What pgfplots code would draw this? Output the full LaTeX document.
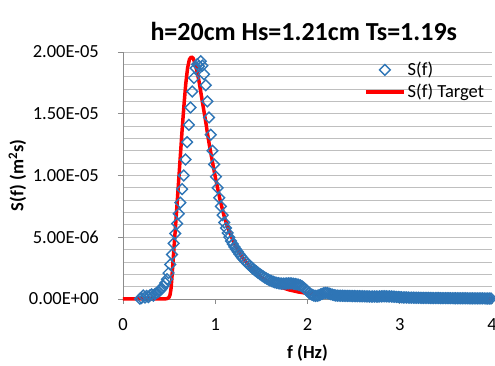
\documentclass[border=0pt]{standalone}
\usepackage{pgfplots}
\pgfplotsset{compat=1.18}
\usepackage{fontspec}
\setmainfont{Carlito}
\definecolor{sblue}{HTML}{2E75B6}
\definecolor{gridgray}{HTML}{BFBFBF}
\definecolor{axgray}{HTML}{8C8C8C}
\pgfplotsset{
  lineleg/.style={legend image code/.code={\draw[##1] (0pt,0pt) -- (38pt,0pt);}},
  markleg/.style={legend image code/.code={\draw[mark repeat=2, mark phase=2, ##1] plot coordinates {(0pt,0pt) (19pt,0pt) (38pt,0pt)};}},
}
\begin{document}
\begin{tikzpicture}
\begin{axis}[
  at={(0,0)}, anchor=south west,
  scale only axis, width=369pt, height=247pt,
  xmin=0, xmax=4, ymin=0, ymax=20,
  axis x line*=bottom, axis y line*=left,
  x axis line style={-, axgray, line width=0.8pt},
  y axis line style={-, axgray, line width=0.8pt},
  xtick={0,1,2,3,4}, xticklabels={0,1,2,3,4},
  ytick={0,5,10,15,20},
  yticklabels={0.00E+00,5.00E-06,1.00E-05,1.50E-05,2.00E-05},
  minor y tick num=4,
  ymajorgrids, yminorgrids,
  major grid style={gridgray, line width=0.8pt},
  minor grid style={gridgray, line width=0.8pt},
  tick align=outside, major tick length=5pt, minor tick length=0pt,
  tick style={axgray, line width=0.8pt},
  ticklabel style={font=\fontsize{18.5}{20}\selectfont},
  yticklabel style={anchor=east, inner sep=0pt, xshift=-19pt},
  xticklabel style={anchor=base, inner sep=0pt, yshift=-26pt},
  title={h=20cm Hs=1.21cm Ts=1.19s},
  title style={at={(axis description cs:0.49,1.022)}, anchor=base, font=\fontsize{26}{30}\selectfont\bfseries},
  xlabel={f (Hz)},
  xlabel style={at={(axis description cs:0.5,-0.239)}, anchor=base, font=\fontsize{18.5}{21}\selectfont\bfseries},
  ylabel={S(f) (m\textsuperscript{2}s)},
  ylabel style={at={(axis description cs:-0.27,0.5)}, rotate=0, anchor=base, font=\fontsize{18.5}{21}\selectfont\bfseries},
  reverse legend,
  legend cell align=left,
  legend style={draw=none, fill=none, at={(axis description cs:0.645,0.883)}, anchor=west,
    font=\fontsize{18.5}{20}\selectfont, row sep=3pt, nodes={inner sep=2pt}},
  clip=false,
]
\addplot[red, line width=3.5pt, line join=round, lineleg]
coordinates {
(0,0) (0.44,0) (0.46,0.01) (0.48,0.04) (0.50,0.14) (0.51,0.35) (0.52,0.8) (0.53,1.7)
(0.54,2.8) (0.56,4.9) (0.58,7.0) (0.60,9.2) (0.62,11.4) (0.64,13.6) (0.66,15.6)
(0.68,17.4) (0.70,18.7) (0.72,19.4) (0.74,19.6) (0.76,19.5) (0.78,19.1) (0.80,18.5)
(0.82,17.8) (0.84,16.9) (0.86,16.0) (0.88,15.1) (0.90,14.2) (0.92,13.2) (0.94,12.3)
(0.96,11.5) (0.98,10.7) (1.00,9.9) (1.05,8.1) (1.10,6.6) (1.15,5.5) (1.20,4.6)
(1.25,3.9) (1.30,3.3) (1.40,2.4) (1.50,1.75) (1.60,1.3) (1.70,0.98) (1.80,0.74)
(1.90,0.57) (2.00,0.45) (2.20,0.29) (2.40,0.18) (2.60,0.12) (2.80,0.085) (3.00,0.06)
(3.50,0.03) (4.00,0.015)
};
\addlegendentry{S(f) Target}
\addplot[only marks, mark=square, mark size=3.8pt, draw=sblue, markleg,
  mark options={rotate=45, line width=1.4pt, draw=sblue, fill=none}]
coordinates {
(0.183,0.02) (0.201,0.08) (0.220,0.28) (0.238,0.12) (0.256,0.25) (0.275,0.16)
(0.293,0.30) (0.311,0.38) (0.329,0.28) (0.348,0.42) (0.366,0.50) (0.384,0.58)
(0.403,0.70) (0.421,0.85) (0.439,1.05) (0.458,1.30) (0.476,1.60) (0.494,2.10)
(0.512,2.80) (0.531,3.60) (0.549,4.50) (0.567,5.30) (0.586,6.10) (0.604,6.90)
(0.622,7.80) (0.641,8.90) (0.659,10.0) (0.677,11.3) (0.695,12.7) (0.714,14.1)
(0.732,15.5) (0.750,16.8) (0.769,17.9) (0.787,18.7) (0.805,19.0) (0.824,18.85)
(0.842,19.25) (0.860,18.9) (0.878,18.2) (0.897,17.3) (0.915,16.0) (0.933,14.7)
(0.952,13.3) (0.970,12.0) (0.988,10.9) (1.007,9.9) (1.025,9.0) (1.043,8.2)
(1.061,7.5) (1.080,6.8) (1.098,6.20) (1.116,5.75) (1.135,5.35) (1.153,5.00)
(1.171,4.70) (1.190,4.45) (1.208,4.22) (1.226,4.02) (1.244,3.82) (1.263,3.63)
(1.281,3.45) (1.299,3.28) (1.318,3.12) (1.336,2.98) (1.354,2.84) (1.373,2.71)
(1.391,2.58) (1.409,2.46) (1.427,2.34) (1.446,2.23) (1.464,2.12) (1.482,2.02)
(1.501,1.92) (1.519,1.83) (1.537,1.74) (1.556,1.66) (1.574,1.58) (1.592,1.51)
(1.610,1.45) (1.629,1.40) (1.647,1.35) (1.665,1.31) (1.684,1.28) (1.702,1.26)
(1.720,1.25) (1.739,1.25) (1.757,1.25) (1.775,1.26) (1.793,1.27) (1.812,1.27)
(1.830,1.26) (1.848,1.24) (1.867,1.22) (1.885,1.19) (1.903,1.15) (1.922,1.10)
(1.940,1.03) (1.958,0.93) (1.976,0.80) (1.995,0.66) (2.013,0.53) (2.031,0.42)
(2.050,0.34) (2.068,0.28) (2.086,0.25) (2.105,0.26) (2.123,0.30) (2.141,0.36)
(2.159,0.42) (2.178,0.47) (2.196,0.49) (2.214,0.48) (2.233,0.45) (2.251,0.40)
(2.269,0.35) (2.288,0.31) (2.306,0.28) (2.324,0.27) (2.342,0.27) (2.361,0.26)
(2.379,0.26) (2.397,0.26) (2.416,0.25) (2.434,0.25) (2.452,0.25) (2.471,0.24)
(2.489,0.24) (2.507,0.24) (2.525,0.23) (2.544,0.23) (2.562,0.23) (2.580,0.22)
(2.599,0.22) (2.617,0.22) (2.635,0.21) (2.654,0.21) (2.672,0.21) (2.690,0.20)
(2.708,0.20) (2.727,0.20) (2.745,0.20) (2.763,0.20) (2.782,0.21) (2.800,0.21)
(2.818,0.22) (2.837,0.22) (2.855,0.22) (2.873,0.21) (2.891,0.21) (2.910,0.20)
(2.928,0.19) (2.946,0.18) (2.965,0.17) (2.983,0.16) (3.001,0.15) (3.020,0.14)
(3.038,0.13) (3.056,0.13) (3.074,0.12) (3.093,0.12) (3.111,0.11) (3.129,0.11)
(3.148,0.11) (3.166,0.10) (3.184,0.10) (3.203,0.10) (3.221,0.10) (3.239,0.09)
(3.257,0.09) (3.276,0.09) (3.294,0.09) (3.312,0.09) (3.331,0.08) (3.349,0.08)
(3.367,0.08) (3.386,0.08) (3.404,0.08) (3.422,0.08) (3.440,0.07) (3.459,0.07)
(3.477,0.07) (3.495,0.07) (3.514,0.07) (3.532,0.07) (3.550,0.07) (3.569,0.07)
(3.587,0.06) (3.605,0.06) (3.623,0.06) (3.642,0.06) (3.660,0.06) (3.678,0.06)
(3.697,0.06) (3.715,0.06) (3.733,0.06) (3.752,0.05) (3.770,0.05) (3.788,0.05)
(3.806,0.05) (3.825,0.05) (3.843,0.05) (3.861,0.05) (3.880,0.05) (3.898,0.05)
(3.916,0.05) (3.935,0.04) (3.953,0.04) (3.971,0.04) (3.989,0.04)
};
\addlegendentry{S(f)}
\end{axis}
\pgfresetboundingbox
\path[use as bounding box] (-123pt,-67pt) rectangle (372pt,299pt);
\end{tikzpicture}
\end{document}
